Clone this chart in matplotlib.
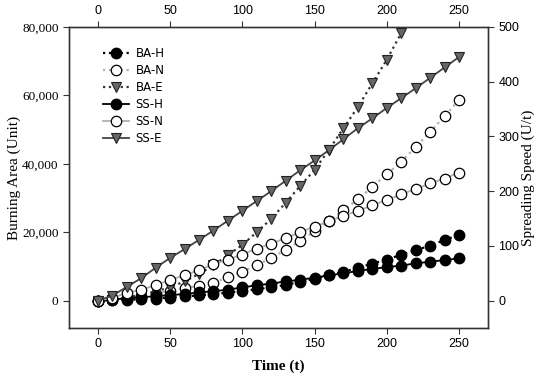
import matplotlib
matplotlib.use("Agg")
import matplotlib.pyplot as plt
from matplotlib.ticker import FuncFormatter

# time steps
t = list(range(0, 260, 10))

# burning area (left axis)
ba_h = [0, 100, 200, 400, 600, 900, 1200, 1500, 1900, 2300, 2800, 3300, 3900,
        4600, 5400, 6400, 7400, 8400, 9600, 10800, 12000, 13400, 14700, 16100,
        17700, 19200]
ba_n = [0, 300, 700, 1300, 2000, 2900, 3600, 4300, 5200, 6800, 8500, 10400,
        12500, 14800, 17400, 20300, 23300, 26400, 29600, 33200, 36900, 40600,
        44900, 49300, 53900, 58700]
t_e = list(range(0, 220, 10))
ba_e = [0, 300, 900, 1700, 2700, 3900, 5600, 7800, 10300, 13300, 16300, 20000,
        23900, 28600, 33500, 38200, 44100, 50400, 56600, 63500, 70400, 78200]

# spreading speed (right axis)
ss_h = [0, 2, 4, 6, 8, 10, 12, 15, 17, 20, 24, 28, 31, 35, 38, 42, 46, 50, 54,
        58, 61, 64, 68, 71, 74, 77]
ss_n = [0, 5, 14, 20, 28, 38, 46, 56, 66, 75, 84, 95, 104, 114, 125, 135, 145,
        155, 164, 174, 184, 194, 204, 214, 223, 234]
ss_e = [0, 9, 25, 41, 60, 78, 94, 111, 128, 146, 164, 182, 200, 219, 238, 256,
        275, 295, 315, 333, 352, 370, 388, 407, 426, 445]

serif = "Liberation Serif"
sans = "Liberation Sans"

fig = plt.figure(figsize=(5.5, 3.8), dpi=100)
ax = fig.add_axes([0.1255, 0.137, 0.7615, 0.792])
ax2 = ax.twinx()
ax3 = ax.twiny()

ms = 7.5
ax.plot(t, ba_h, ls=":", lw=1.6, color="black", marker="o", ms=ms,
        mfc="black", mec="black", label="BA-H", zorder=3)
ax.plot(t, ba_n, ls=":", lw=1.6, color="#b0b0b0", marker="o", ms=ms,
        mfc="white", mec="black", mew=0.9, label="BA-N", zorder=3)
ax.plot(t_e, ba_e, ls=":", lw=1.6, color="#333333", marker="v", ms=ms,
        mfc="#666666", mec="#222222", mew=0.8, label="BA-E", zorder=3)
ax2.plot(t, ss_h, ls="-", lw=1.3, color="black", marker="o", ms=ms,
         mfc="black", mec="black", label="SS-H")
ax2.plot(t, ss_n, ls="-", lw=1.3, color="#b0b0b0", marker="o", ms=ms,
         mfc="white", mec="black", mew=0.9, label="SS-N")
ax2.plot(t, ss_e, ls="-", lw=1.3, color="#444444", marker="v", ms=ms,
         mfc="#666666", mec="#222222", mew=0.8, label="SS-E")

ax.set_xlim(-20, 270)
ax3.set_xlim(-20, 270)
ax.set_ylim(-8000, 80000)
ax2.set_ylim(-50, 500)

ax.set_xticks(range(0, 260, 50))
ax3.set_xticks(range(0, 260, 50))
ax.set_yticks(range(0, 80001, 20000))
ax2.set_yticks(range(0, 501, 100))
ax.yaxis.set_major_formatter(FuncFormatter(lambda v, p: f"{int(v):,}"))

for a in (ax, ax2, ax3):
    a.tick_params(direction="out", length=4, width=0.8, color="#333333")
    for s in a.spines.values():
        s.set_color("#333333")
        s.set_linewidth(0.9)

for lab in ax.get_yticklabels():
    lab.set_fontfamily(serif)
    lab.set_fontsize(9.5)
for a in (ax, ax3):
    for lab in a.get_xticklabels():
        lab.set_fontfamily(sans)
        lab.set_fontsize(9)
for lab in ax2.get_yticklabels():
    lab.set_fontfamily(sans)
    lab.set_fontsize(9)

ax.set_xlabel("Time (t)", fontfamily=serif, fontsize=11, fontweight="bold")
ax.xaxis.set_label_coords(0.5, -0.105)
ax.set_ylabel("Burning Area (Unit)", fontfamily=serif, fontsize=11)
ax.yaxis.set_label_coords(-0.115, 0.5)
ax2.set_ylabel("Spreading Speed (U/t)", fontfamily=serif, fontsize=11)
ax2.yaxis.set_label_coords(1.08, 0.5)

h1, l1 = ax.get_legend_handles_labels()
h2, l2 = ax2.get_legend_handles_labels()
ax2.legend(h1 + h2, l1 + l2, loc="upper left", bbox_to_anchor=(0.055, 0.97),
           frameon=False, prop={"family": "DejaVu Sans", "size": 8.5},
           handlelength=2.2, handletextpad=0.6, labelspacing=0.35)

fig.savefig("out.png", dpi=100)
